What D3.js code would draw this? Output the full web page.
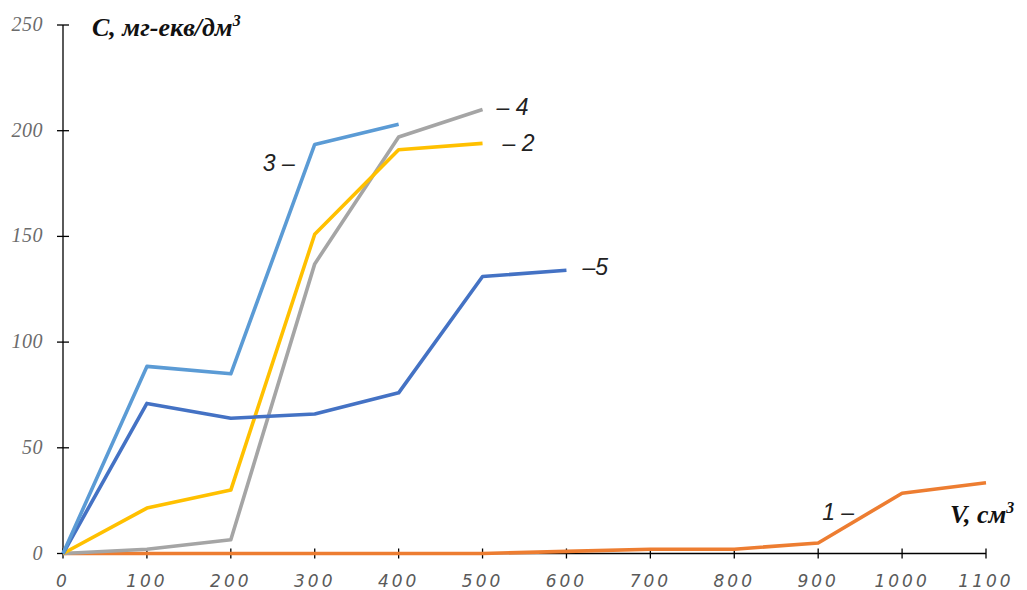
<!DOCTYPE html>
<html>
<head>
<meta charset="utf-8">
<script src="https://cdn.jsdelivr.net/npm/d3@7"></script>
<style>
  html, body { margin: 0; padding: 0; background: #fff; }
  svg { display: block; }
</style>
</head>
<body>
<svg id="chart" width="1027" height="590"></svg>
<script>
// Volume of eluate, cm³
const volumes = [0, 100, 200, 300, 400, 500, 600, 700, 800, 900, 1000, 1100];

// Concentration, mg-eq/dm³, per curve
const curve1 = [0, 0, 0, 0, 0, 0, 1, 2, 2, 5, 28.5, 33.5];
const curve2 = [0, 21.5, 30, 151, 191, 194];
const curve3 = [0, 88.5, 85, 193.5, 203];
const curve4 = [0, 2, 6.5, 137, 197, 210];
const curve5 = [0, 71, 64, 66, 76, 131, 134];

const xTicks = [0, 100, 200, 300, 400, 500, 600, 700, 800, 900, 1000, 1100];
const yTicks = [0, 50, 100, 150, 200, 250];

const curveNames = ["1", "2", "3", "4", "5"];
const curveColors = ["#ED7D31", "#FFC000", "#5B9BD5", "#A5A5A5", "#4472C4"];

const serif = "'Liberation Serif', 'Times New Roman', 'DejaVu Serif', serif";

const svg = d3.select("#chart");

const x = d3.scaleLinear().domain([0, 1100]).range([63, 986]);
const y = d3.scaleLinear().domain([0, 250]).range([553.5, 25]);

// Axes (ticks cross the axis line)
const xAxis = svg.append("g").attr("transform", `translate(0,${y(0)})`);
xAxis.append("line")
  .attr("x1", x(0)).attr("x2", x(1100))
  .attr("stroke", "#000").attr("stroke-width", 1.3);
xAxis.selectAll("line.tick").data(xTicks).join("line")
  .attr("class", "tick")
  .attr("x1", d => x(d)).attr("x2", d => x(d))
  .attr("y1", -5).attr("y2", 5)
  .attr("stroke", "#000").attr("stroke-width", 1.3);
xAxis.selectAll("text").data(xTicks).join("text")
  .attr("x", d => x(d)).attr("y", 33)
  .attr("text-anchor", "middle")
  .attr("font-family", "'DejaVu Sans', sans-serif")
  .attr("font-style", "italic")
  .attr("font-size", 17)
  .attr("letter-spacing", 3)
  .attr("fill", "#5a5a5a")
  .text(d => d);

const yAxis = svg.append("g").attr("transform", `translate(${x(0)},0)`);
yAxis.append("line")
  .attr("y1", y(0)).attr("y2", y(250))
  .attr("stroke", "#000").attr("stroke-width", 1.3);
yAxis.selectAll("line.tick").data(yTicks).join("line")
  .attr("class", "tick")
  .attr("y1", d => y(d)).attr("y2", d => y(d))
  .attr("x1", -6).attr("x2", 6)
  .attr("stroke", "#000").attr("stroke-width", 1.3);
yAxis.selectAll("text").data(yTicks).join("text")
  .attr("x", -20).attr("y", d => y(d) + 6)
  .attr("text-anchor", "end")
  .style("font-family", serif)
  .style("font-style", "italic")
  .style("font-size", "20px")
  .attr("letter-spacing", 0.5)
  .attr("fill", "#6b6b6b")
  .text(d => d);

// Curves
const series = [curve1, curve2, curve3, curve4, curve5];
const line = d3.line()
  .x((d, i) => x(volumes[i]))
  .y(d => y(d));

// draw order: 1 first so the others sit over it
const order = [0, 3, 1, 4, 2];
order.forEach(k => {
  svg.append("path")
    .datum(series[k])
    .attr("d", line)
    .attr("fill", "none")
    .attr("stroke", curveColors[k])
    .attr("stroke-width", 3.6)
    .attr("stroke-linejoin", "round");
});

// Curve labels
const labelFont = "'Liberation Sans', 'Open Sans', sans-serif";
const curveLabels = [
  { text: "1 –", xv: 900, yv: 28.5, dx: 4, dy: 27 },
  { text: "– 2", xv: 500, yv: 194, dx: 20, dy: 8 },
  { text: "3 –", xv: 300, yv: 193.5, dx: -52, dy: 27 },
  { text: "– 4", xv: 500, yv: 210, dx: 14, dy: 5 },
  { text: "–5", xv: 600, yv: 134, dx: 16, dy: 5 }
];
svg.selectAll("text.curve").data(curveLabels).join("text")
  .attr("class", "curve")
  .attr("x", d => x(d.xv) + d.dx)
  .attr("y", d => y(d.yv) + d.dy)
  .attr("font-family", labelFont)
  .attr("font-style", "italic")
  .attr("font-size", 23)
  .attr("fill", "#222")
  .text(d => d.text);

// Axis titles
const cTitle = svg.append("text")
  .attr("x", 92).attr("y", 36)
  .style("font-family", serif)
  .style("font-style", "italic")
  .style("font-weight", "bold")
  .style("font-size", "26px")
  .attr("fill", "#111");
cTitle.append("tspan").text("C, мг-екв/дм");
cTitle.append("tspan").attr("dy", -10).style("font-size", "16px").text("3");

const vTitle = svg.append("text")
  .attr("x", 950).attr("y", 523)
  .style("font-family", serif)
  .style("font-style", "italic")
  .style("font-weight", "bold")
  .style("font-size", "26px")
  .attr("fill", "#111");
vTitle.append("tspan").text("V, см");
vTitle.append("tspan").attr("dy", -10).style("font-size", "16px").text("3");
</script>
</body>
</html>
